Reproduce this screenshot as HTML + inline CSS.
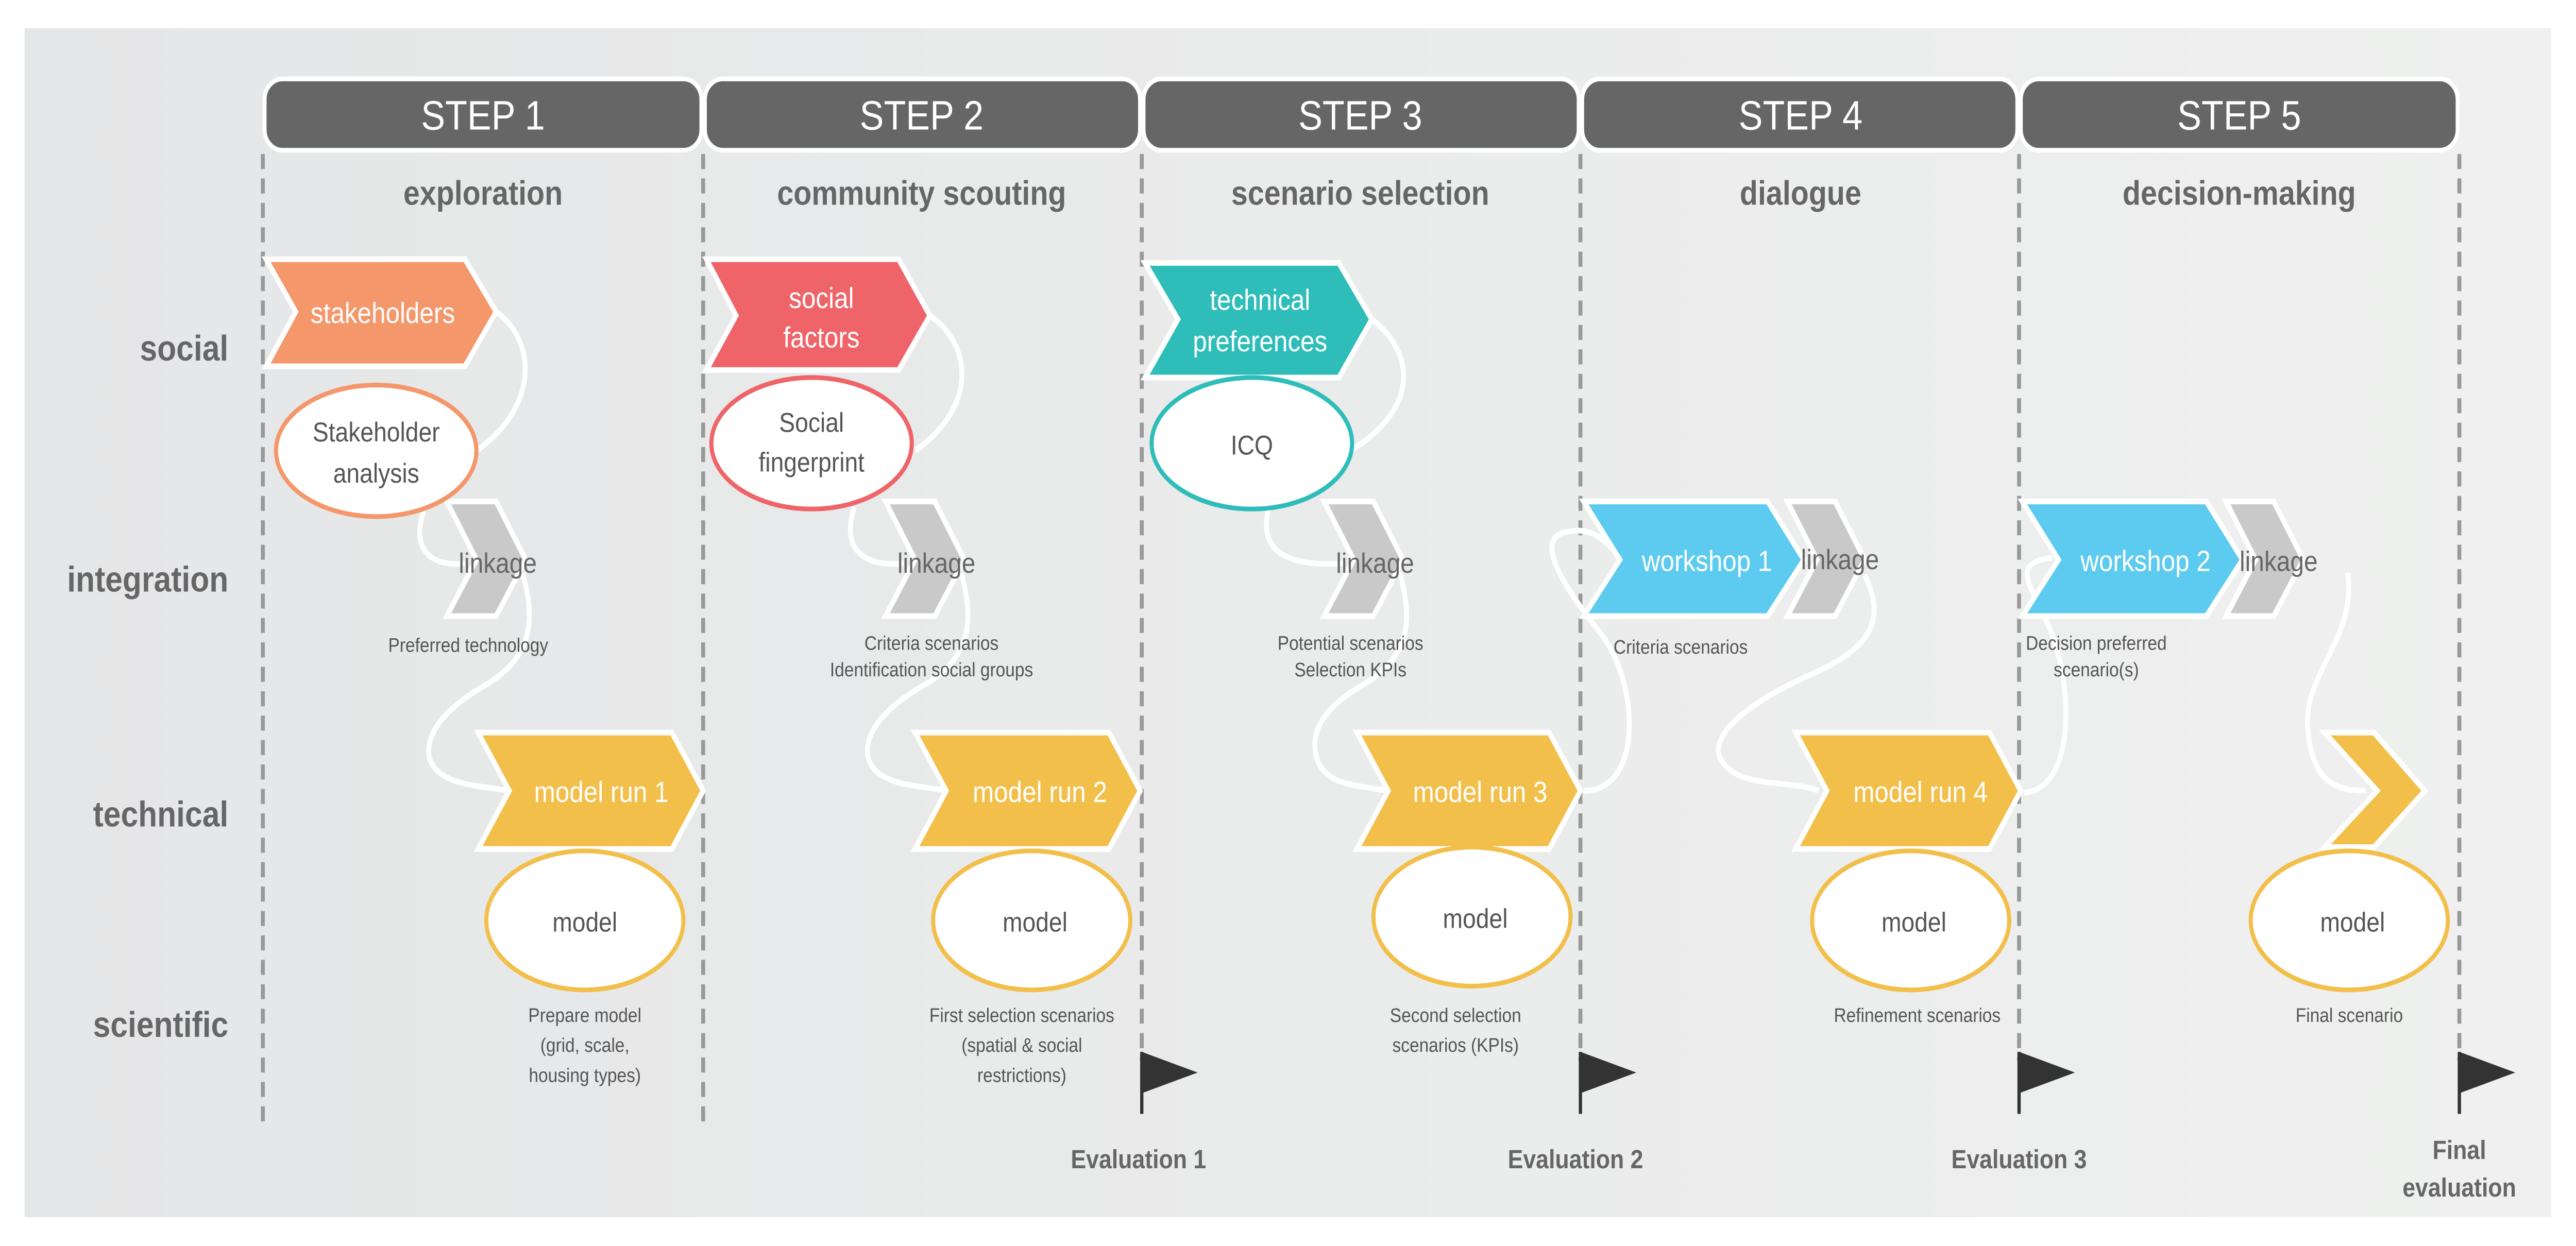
<!DOCTYPE html>
<html><head><meta charset="utf-8"><style>html,body{margin:0;padding:0;background:#fff;overflow:hidden}svg{display:block;width:100vw;height:100vh}</style></head>
<body>
<svg viewBox="0 0 1568 663.35" preserveAspectRatio="none" xmlns="http://www.w3.org/2000/svg" font-family="Liberation Sans, sans-serif">
<defs><linearGradient id="bg" x1="0" x2="1" y1="0" y2="0"><stop offset="0" stop-color="#e5e6e7"/><stop offset="1" stop-color="#eff0ef"/></linearGradient></defs>
<rect x="15" y="15" width="1538" height="633" fill="url(#bg)"/>
<g stroke="#999" stroke-width="2.4" stroke-dasharray="8,5">
<line x1="160" y1="82" x2="160" y2="598"/><line x1="428" y1="82" x2="428" y2="598"/>
<line x1="695" y1="82" x2="695" y2="565"/><line x1="962" y1="82" x2="962" y2="565"/>
<line x1="1229" y1="82" x2="1229" y2="565"/><line x1="1497" y1="82" x2="1497" y2="565"/>
</g>
<g fill="#666" stroke="#fff" stroke-width="2.5">
<rect x="161" y="42" width="266" height="38" rx="11"/><rect x="429" y="42" width="265" height="38" rx="11"/>
<rect x="696" y="42" width="265" height="38" rx="11"/><rect x="963" y="42" width="265" height="38" rx="11"/>
<rect x="1230" y="42" width="266" height="38" rx="11"/>
</g>
<g fill="#fff" font-size="22" text-anchor="middle">
<text x="294" y="69">STEP 1</text><text x="561" y="69">STEP 2</text><text x="828" y="69">STEP 3</text><text x="1096" y="69">STEP 4</text><text x="1363" y="69">STEP 5</text>
</g>
<g fill="#666" font-size="18" font-weight="bold" text-anchor="middle">
<text x="294" y="109">exploration</text><text x="561" y="109">community scouting</text><text x="828" y="109">scenario selection</text><text x="1096" y="109">dialogue</text><text x="1363" y="109">decision-making</text>
</g>
<g fill="#666" font-size="19" font-weight="bold" text-anchor="end">
<text x="139" y="192">social</text><text x="139" y="315">integration</text><text x="139" y="440">technical</text><text x="139" y="552">scientific</text>
</g>
<g fill="none" stroke="#fff" stroke-width="3">
<path d="M302,166 C325,180 330,215 290,240"/>
<path d="M258,272 C250,292 262,302 283,300"/>
<path d="M318,305 C328,335 320,352 295,365 C265,380 258,395 262,405 C268,418 290,418 310,421"/>
<path d="M566,168 C590,182 597,215 557,240"/>
<path d="M520,270 C512,292 525,302 550,300"/>
<path d="M585,305 C595,335 587,352 562,365 C532,380 525,395 529,405 C535,418 557,418 577,421"/>
<path d="M835,170 C858,185 868,215 822,240"/>
<path d="M773,268 C765,292 780,302 818,300"/>
<path d="M852,305 C862,335 854,352 829,365 C799,380 798,395 802,405 C808,418 825,418 845,421"/>
<path d="M964,421 C1000,421 998,365 975,338 C945,305 935,285 955,283 C970,280 980,290 987,298"/>
<path d="M1135,306 C1148,330 1140,345 1100,360 C1055,378 1040,395 1048,405 C1058,420 1090,415 1107,421"/>
<path d="M1232,422 C1262,420 1262,370 1250,340 C1240,315 1220,300 1249,297"/>
<path d="M1429,305 C1435,340 1400,360 1405,390 C1408,415 1420,421 1440,421"/>
</g>
<g stroke="#fff" stroke-width="3">
<polygon points="162,138 283,138 302,166 283,195 162,195 180,166" fill="#f4976b"/>
<polygon points="430,138 547,138 566,168 547,197 430,197 448,168" fill="#ef6468"/>
<polygon points="697,140 815,140 835,170 815,201 697,201 717,170" fill="#2fbdba"/>
<polygon points="272,267 302,267 320,298 302,328 272,328 290,298" fill="#c9c9c9"/>
<polygon points="539,267 569,267 587,298 569,328 539,328 557,298" fill="#c9c9c9"/>
<polygon points="806,267 836,267 854,298 836,328 806,328 824,298" fill="#c9c9c9"/>
<polygon points="964,267 1076,267 1098,298 1076,328 964,328 986,298" fill="#5dcbf0"/>
<polygon points="1088,267 1117,267 1135,298 1117,328 1088,328 1106,298" fill="#c9c9c9"/>
<polygon points="1231,267 1343,267 1365,298 1343,328 1231,328 1253,298" fill="#5dcbf0"/>
<polygon points="1355,267 1384,267 1402,298 1384,328 1355,328 1373,298" fill="#c9c9c9"/>
<polygon points="291,390 409,390 428,421 409,452 291,452 310,421" fill="#f3bf4b"/>
<polygon points="557,390 675,390 694,421 675,452 557,452 576,421" fill="#f3bf4b"/>
<polygon points="826,390 943,390 962,421 943,452 826,452 845,421" fill="#f3bf4b"/>
<polygon points="1093,390 1211,390 1230,421 1211,452 1093,452 1112,421" fill="#f3bf4b"/>
<polygon points="1415,390 1445,390 1476,421 1445,451 1415,451 1447,421" fill="#f3bf4b"/>
</g>
<g fill="#fff" font-size="15.5" text-anchor="middle">
<text x="233" y="172">stakeholders</text>
<text x="500" y="164">social</text><text x="500" y="185">factors</text>
<text x="767" y="165">technical</text><text x="767" y="187">preferences</text>
<text x="1039" y="304">workshop 1</text><text x="1306" y="304">workshop 2</text>
<text x="366" y="427">model run 1</text><text x="633" y="427">model run 2</text><text x="901" y="427">model run 3</text><text x="1169" y="427">model run 4</text>
</g>
<g fill="#666" font-size="15" text-anchor="middle">
<text x="303" y="305">linkage</text><text x="570" y="305">linkage</text><text x="837" y="305">linkage</text><text x="1120" y="303">linkage</text><text x="1387" y="304">linkage</text>
</g>
<g fill="#fff" stroke-width="2.5">
<ellipse cx="229" cy="240" rx="61" ry="35" stroke="#f4976b"/>
<ellipse cx="494" cy="236" rx="61" ry="35" stroke="#ef6468"/>
<ellipse cx="762" cy="236" rx="61" ry="35" stroke="#2fbdba"/>
<ellipse cx="356" cy="490" rx="60" ry="37" stroke="#f3bf4b"/>
<ellipse cx="628" cy="490" rx="60" ry="37" stroke="#f3bf4b"/>
<ellipse cx="896" cy="488" rx="60" ry="37" stroke="#f3bf4b"/>
<ellipse cx="1163" cy="490" rx="60" ry="37" stroke="#f3bf4b"/>
<ellipse cx="1430" cy="490" rx="60" ry="37" stroke="#f3bf4b"/>
</g>
<g fill="#555" font-size="14.5" text-anchor="middle">
<text x="229" y="235">Stakeholder</text><text x="229" y="257">analysis</text>
<text x="494" y="230">Social</text><text x="494" y="251">fingerprint</text>
<text x="762" y="242">ICQ</text>
<text x="356" y="496">model</text><text x="630" y="496">model</text><text x="898" y="494">model</text><text x="1165" y="496">model</text><text x="1432" y="496">model</text>
</g>
<g fill="#555" font-size="10.5" text-anchor="middle">
<text x="285" y="347">Preferred technology</text>
<text x="567" y="346">Criteria scenarios</text><text x="567" y="360">Identification social groups</text>
<text x="822" y="346">Potential scenarios</text><text x="822" y="360">Selection KPIs</text>
<text x="1023" y="348">Criteria scenarios</text>
<text x="1276" y="346">Decision preferred</text><text x="1276" y="360">scenario(s)</text>
<text x="356" y="544">Prepare model</text><text x="356" y="560">(grid, scale,</text><text x="356" y="576">housing types)</text>
<text x="622" y="544">First selection scenarios</text><text x="622" y="560">(spatial &amp; social</text><text x="622" y="576">restrictions)</text>
<text x="886" y="544">Second selection</text><text x="886" y="560">scenarios (KPIs)</text>
<text x="1167" y="544">Refinement scenarios</text>
<text x="1430" y="544">Final scenario</text>
</g>
<g fill="#333" stroke="#333" stroke-width="2">
<line x1="695" y1="560" x2="695" y2="593"/><polygon points="695,560 729,571 695,582" stroke="none"/>
<line x1="962" y1="560" x2="962" y2="593"/><polygon points="962,560 996,571 962,582" stroke="none"/>
<line x1="1229" y1="560" x2="1229" y2="593"/><polygon points="1229,560 1263,571 1229,582" stroke="none"/>
<line x1="1497" y1="560" x2="1497" y2="593"/><polygon points="1497,560 1531,571 1497,582" stroke="none"/>
</g>
<g fill="#666" font-size="14" font-weight="bold" text-anchor="middle">
<text x="693" y="622">Evaluation 1</text><text x="959" y="622">Evaluation 2</text><text x="1229" y="622">Evaluation 3</text>
<text x="1497" y="617">Final</text><text x="1497" y="637">evaluation</text>
</g>
</svg>
</body></html>
